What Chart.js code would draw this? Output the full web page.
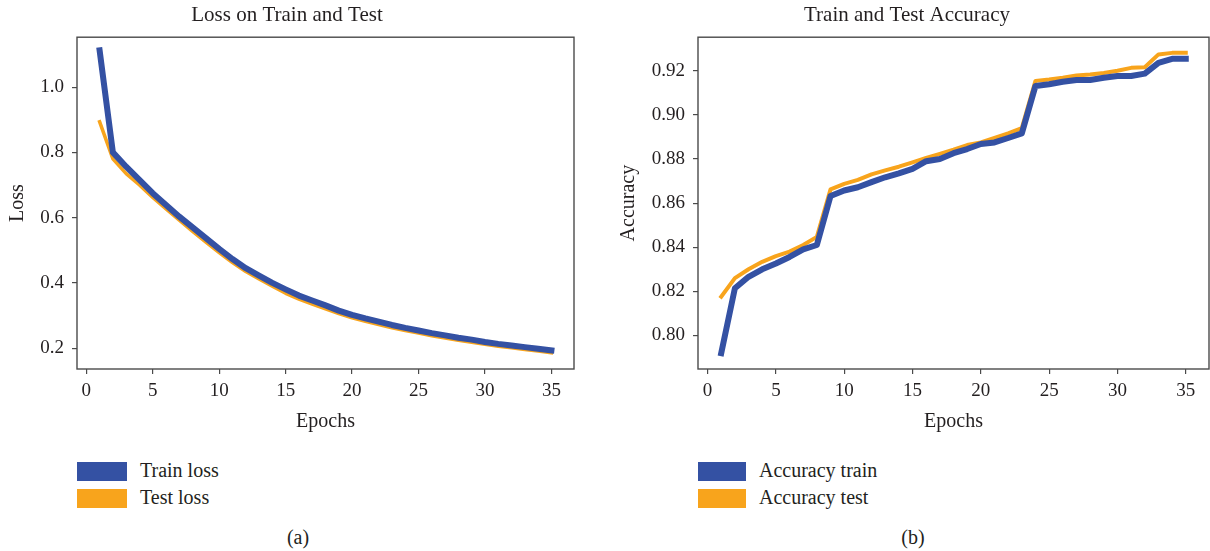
<!DOCTYPE html>
<html>
<head>
<meta charset="utf-8">
<script src="https://cdn.jsdelivr.net/npm/chart.js@4.4.1/dist/chart.umd.min.js"></script>
<style>
  body { margin: 0; background: #fff; font-family: "Liberation Serif", "DejaVu Serif", serif; color: #231f20; }
  #page { position: relative; width: 1210px; height: 551px; overflow: hidden; }
  .box { position: absolute; top: 0; width: 605px; height: 440px; }
  .item { position: absolute; white-space: nowrap; font-size: 20px; line-height: 22px; }
  .swatch { position: absolute; width: 50px; height: 19px; }
  .caption { position: absolute; top: 526px; font-size: 20px; line-height: 22px; transform: translateX(-50%); }
</style>
</head>
<body>
<div id="page">
  <div class="box" style="left:0"><canvas id="lossChart"></canvas></div>
  <div class="box" style="left:605px"><canvas id="accChart"></canvas></div>

  <div class="swatch" style="left:77px;top:462px;background:#3451a3"></div>
  <div class="item" style="left:140px;top:459px">Train loss</div>
  <div class="swatch" style="left:77px;top:489px;background:#f8a41c"></div>
  <div class="item" style="left:140px;top:486px">Test loss</div>

  <div class="swatch" style="left:698px;top:462px;width:48px;background:#3451a3"></div>
  <div class="item" style="left:759px;top:459px">Accuracy train</div>
  <div class="swatch" style="left:698px;top:489px;width:48px;background:#f8a41c"></div>
  <div class="item" style="left:759px;top:486px">Accuracy test</div>

  <div class="caption" style="left:298px">(a)</div>
  <div class="caption" style="left:913px">(b)</div>
</div>
<script>
const epochs = [1, 2, 3, 4, 5, 6, 7, 8, 9, 10, 11, 12, 13, 14, 15, 16, 17, 18, 19, 20,
                21, 22, 23, 24, 25, 26, 27, 28, 29, 30, 31, 32, 33, 34, 35];

const trainLoss = [1.113, 0.800, 0.756, 0.716, 0.675, 0.639, 0.603, 0.570, 0.537, 0.504,
                   0.473, 0.445, 0.422, 0.400, 0.380, 0.361, 0.346, 0.331, 0.315, 0.302,
                   0.291, 0.281, 0.271, 0.262, 0.254, 0.246, 0.239, 0.232, 0.226, 0.219,
                   0.213, 0.208, 0.203, 0.198, 0.193];
const testLoss = [0.894, 0.780, 0.735, 0.700, 0.662, 0.627, 0.592, 0.558, 0.525, 0.493,
                  0.462, 0.435, 0.412, 0.390, 0.368, 0.350, 0.335, 0.320, 0.306, 0.293,
                  0.282, 0.272, 0.262, 0.254, 0.246, 0.238, 0.231, 0.224, 0.218, 0.212,
                  0.206, 0.201, 0.196, 0.191, 0.186];

const trainAcc = [0.792, 0.8214, 0.8266, 0.830, 0.8326, 0.8356, 0.839, 0.841, 0.8632, 0.8657,
                  0.8672, 0.8695, 0.8717, 0.8735, 0.8755, 0.879, 0.880, 0.8826, 0.8845, 0.8868,
                  0.8875, 0.8895, 0.8916, 0.9131, 0.9139, 0.915, 0.9158, 0.9158, 0.9168, 0.9176,
                  0.9176, 0.9187, 0.9236, 0.9254, 0.9254];
const testAcc = [0.8176, 0.826, 0.830, 0.8334, 0.836, 0.838, 0.841, 0.8447, 0.8662, 0.8687,
                 0.8705, 0.873, 0.8748, 0.8765, 0.8785, 0.8805, 0.8823, 0.8842, 0.8863, 0.8875,
                 0.8895, 0.8916, 0.894, 0.9154, 0.916, 0.9168, 0.9178, 0.9183, 0.919, 0.920,
                 0.9213, 0.9216, 0.9274, 0.9281, 0.9281];

const epochTicks = [0, 5, 10, 15, 20, 25, 30, 35];
const lossTicks = [0.2, 0.4, 0.6, 0.8, 1.0];
const accTicks = [0.80, 0.82, 0.84, 0.86, 0.88, 0.90, 0.92];

const BLUE = '#3451a3';
const ORANGE = '#f8a41c';
const INK = '#231f20';
const FONT = '"Liberation Serif", "DejaVu Serif", serif';

// matplotlib style box around the plot area
const frame = {
    id: 'frame',
    afterDraw(chart) {
        const a = chart.chartArea;
        const ctx = chart.ctx;
        ctx.save();
        ctx.strokeStyle = '#4a4a4a';
        ctx.lineWidth = 1.4;
        ctx.strokeRect(a.left, a.top, a.right - a.left, a.bottom - a.top);
        ctx.restore();
    }
};

function line(label, values, color, width) {
    return {
        label: label,
        data: epochs.map((e, i) => ({x: e, y: values[i]})),
        borderColor: color,
        backgroundColor: color,
        borderWidth: width,
        pointRadius: 0,
        tension: 0,
        borderCapStyle: 'square',
        borderJoinStyle: 'round'
    };
}

function makeChart(id, opts) {
    const tickStyle = { color: INK, font: { family: FONT, size: 19 } };
    new Chart(document.getElementById(id), {
        type: 'line',
        data: { datasets: opts.datasets },
        plugins: [frame],
        options: {
            responsive: false,
            animation: false,
            layout: { padding: { left: 0, right: opts.padRight, top: 0, bottom: 0 } },
            plugins: {
                legend: { display: false },
                tooltip: { enabled: false },
                title: {
                    display: true,
                    text: opts.title,
                    color: INK,
                    font: { family: FONT, size: 21, weight: 'normal' },
                    padding: { top: 3, bottom: 9 }
                }
            },
            scales: {
                x: {
                    type: 'linear',
                    min: -0.7,
                    max: 36.7,
                    afterBuildTicks: s => { s.ticks = epochTicks.map(v => ({value: v})); },
                    afterFit: s => { s.height = 71; },
                    border: { display: false },
                    grid: { drawOnChartArea: false, drawTicks: true, tickLength: 5, color: '#4a4a4a', lineWidth: 1.2 },
                    ticks: Object.assign({ padding: 6, maxRotation: 0 }, tickStyle),
                    title: { display: true, text: 'Epochs', color: INK, font: { family: FONT, size: 20 }, padding: { top: 0, bottom: 6 } }
                },
                y: {
                    type: 'linear',
                    min: opts.yMin,
                    max: opts.yMax,
                    afterBuildTicks: s => { s.ticks = opts.yTicks.map(v => ({value: v})); },
                    afterFit: s => { s.width = opts.yWidth; },
                    border: { display: false },
                    grid: { drawOnChartArea: false, drawTicks: true, tickLength: 5, color: '#4a4a4a', lineWidth: 1.2 },
                    ticks: Object.assign({ padding: 8, callback: v => v.toFixed(opts.digits) }, tickStyle),
                    title: { display: true, text: opts.yTitle, color: INK, font: { family: FONT, size: 20 }, padding: { top: opts.yTitlePad, bottom: 0 } }
                }
            }
        }
    });
}

function sizeCanvas(id) {
    const c = document.getElementById(id);
    c.width = 605; c.height = 440;
    c.style.width = '605px'; c.style.height = '440px';
}
sizeCanvas('lossChart');
sizeCanvas('accChart');

makeChart('lossChart', {
    title: 'Loss on Train and Test',
    datasets: [line('Train loss', trainLoss, BLUE, 6), line('Test loss', testLoss, ORANGE, 3.5)],
    yMin: 0.136, yMax: 1.153, yTicks: lossTicks, digits: 1,
    yTitle: 'Loss', yWidth: 77, yTitlePad: 6, padRight: 31
});

makeChart('accChart', {
    title: 'Train and Test Accuracy',
    datasets: [line('Accuracy train', trainAcc, BLUE, 6), line('Accuracy test', testAcc, ORANGE, 4)],
    yMin: 0.7848, yMax: 0.9352, yTicks: accTicks, digits: 2,
    yTitle: 'Accuracy', yWidth: 93, yTitlePad: 12, padRight: 1
});
</script>
</body>
</html>
